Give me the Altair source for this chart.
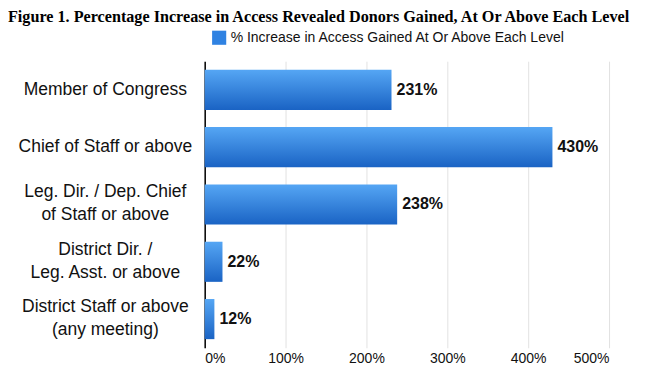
import altair as alt
import pandas as pd

categories = [
    "Member of Congress",
    "Chief of Staff or above",
    "Leg. Dir. / Dep. Chief|of Staff or above",
    "District Dir. /|Leg. Asst. or above",
    "District Staff or above|(any meeting)",
]
values = [231, 430, 238, 22, 12]
series = "% Increase in Access Gained At Or Above Each Level"
x_ticks = [0, 100, 200, 300, 400, 500]

df = pd.DataFrame({"level": categories, "pct": values, "series": series})
df["label"] = df["pct"].astype(str) + "%"

gradient = alt.Gradient(
    gradient="linear",
    stops=[alt.GradientStop(color="#55a6f4", offset=0),
           alt.GradientStop(color="#1a63c4", offset=1)],
    x1=0, x2=0, y1=0, y2=1,
)

FONT = "Liberation Sans"

y_enc = alt.Y(
    "level:N", sort=categories, title=None,
    scale=alt.Scale(paddingInner=0.3, paddingOuter=0.15),
    axis=alt.Axis(
        labelExpr="split(datum.label, '|')",
        labelAlign="center", labelBaseline="middle", labelPadding=100,
        labelOffset={"condition": {"test": "indexof(datum.label, '|') >= 0", "value": -12}, "value": 0},
        ticks=False, labelFont=FONT, labelFontSize=17.5, labelColor="#111111",
        labelLineHeight=23, domainColor="#000000", domainWidth=1.5,
        grid=False, labelLimit=300,
    ),
)
x_enc = alt.X(
    "pct:Q", title=None,
    scale=alt.Scale(domain=[0, 500], nice=False),
    axis=alt.Axis(
        values=x_ticks, labelExpr="datum.value + '%'", domain=False,
        ticks=False, grid=True, gridColor="#e2e2e2", labelFont=FONT,
        labelFontSize=14, labelColor="#111111", labelPadding=4,
    ),
)

bars = alt.Chart(df).mark_bar(color=gradient).encode(x=x_enc, y=y_enc)

legend_layer = alt.Chart(df).mark_bar(opacity=0).encode(
    x=x_enc, y=y_enc,
    color=alt.Color(
        "series:N", scale=alt.Scale(range=["#2f82e2"]),
        legend=alt.Legend(
            title=None, orient="none", legendX=7, legendY=-31,
            symbolType="square", symbolSize=200, symbolOpacity=1,
            symbolStrokeWidth=0, labelFont=FONT,
            labelFontSize=14, labelColor="#111111", labelOffset=4,
            labelLimit=500,
        ),
    ),
)

text = alt.Chart(df).mark_text(
    align="left", baseline="middle", dx=5, font=FONT, fontSize=16,
    fontWeight="bold", color="#111111",
).encode(x="pct:Q", y=alt.Y("level:N", sort=categories), text="label:N")

chart = alt.layer(bars, legend_layer, text).properties(
    width=405, height=287,
    padding={"left": 197, "top": 53, "right": 30, "bottom": 20},
    autosize=alt.AutoSizeParams(type="none"),
    title=alt.TitleParams(
        "Figure 1. Percentage Increase in Access Revealed Donors Gained, At Or Above Each Level",
        anchor="start", frame="group", dx=-197, offset=5, font="Liberation Serif",
        fontSize=16.2, fontWeight="bold", color="#000000",
    ),
).configure_view(stroke=None)

chart.save("out.html", embed_options={"renderer": "svg", "actions": False})
